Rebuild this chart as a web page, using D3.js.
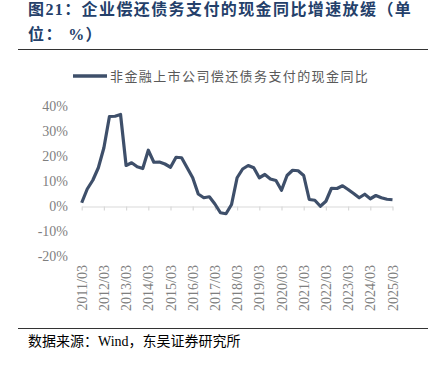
<!DOCTYPE html>
<html><head><meta charset="utf-8">
<script src="https://cdn.jsdelivr.net/npm/d3@7/dist/d3.min.js"></script>
<style>body{margin:0;background:#fff;}svg{display:block;}</style>
</head><body>
<script>
const years = d3.range(2011, 2026);
const tickLabels = years.map(y => y + "/03");
const seriesName = "非金融上市公司偿还债务支付的现金同比";
const values = [
  1.5, 7, 10.5, 15.5,
  23.5, 36, 36.1, 36.8,
  16.4, 17.5, 15.9, 15.2,
  22.5, 17.7, 17.8, 17,
  15.7, 19.7, 19.5, 15.5,
  11.5, 5, 3.5, 3.9,
  1, -2.5, -2.9, 0.8,
  11.5, 15, 16.4, 15.5,
  11.5, 12.8, 11, 10.4,
  6.5, 12.4, 14.5, 14.3,
  12.4, 2.8, 2.5, 0.1,
  2.1, 7.3, 7.2, 8.3,
  6.8, 5.2, 3.5, 4.9,
  3.1, 4.4, 3.5, 2.9,
  2.7
];
const yTicks = [-20, -10, 0, 10, 20, 30, 40];

const W = 428, H = 373;
const svg = d3.select("body").append("svg").attr("width", W).attr("height", H);
const serif = "'Liberation Serif','Times New Roman','Noto Sans CJK SC',serif";
const titleColor = "#24406a";
const lineColor = "#3e4f6a";

// Title
svg.append("text").attr("x", 28).attr("y", 14.5)
  .attr("font-family", serif).attr("font-weight", "bold").attr("font-size", 16)
  .attr("fill", titleColor).attr("letter-spacing", 1.4)
  .text("图21：企业偿还债务支付的现金同比增速放缓（单");
svg.append("text").attr("x", 28).attr("y", 40)
  .attr("font-family", serif).attr("font-weight", "bold").attr("font-size", 16)
  .attr("fill", titleColor).attr("letter-spacing", 1.4)
  .text("位：  %）");
svg.append("line").attr("x1", 18).attr("x2", W).attr("y1", 49.5).attr("y2", 49.5)
  .attr("stroke", "#333").attr("stroke-width", 1.2);

// Scales
const x = d3.scaleLinear().domain([0, values.length - 1]).range([81.7, 392.5]);
const y = d3.scaleLinear().domain([-20, 40]).range([256.5, 106.5]);

// Y axis labels
const yAxis = d3.axisLeft(y).tickValues(yTicks).tickFormat(d => d + "%").tickSize(0).tickPadding(0);
const gy = svg.append("g").attr("transform", "translate(68,0)").call(yAxis);
gy.select(".domain").remove();
gy.selectAll("text").attr("font-family", serif).attr("font-size", 14).attr("fill", "#7f7f7f");

// X axis at zero
const tickIdx = years.map((yy, i) => i * 4);
const xAxis = d3.axisBottom(x).tickValues(tickIdx).tickFormat("").tickSize(4).tickSizeOuter(0);
const gx = svg.append("g").attr("transform", `translate(0,${y(0)})`).call(xAxis);
gx.select(".domain").attr("stroke", "#d9d9d9").attr("stroke-width", 1.2);
gx.selectAll(".tick line").attr("stroke", "#d9d9d9").attr("stroke-width", 1.2);

// X tick labels (low position)
svg.append("g").selectAll("text").data(tickIdx).join("text")
  .attr("transform", (d) => `translate(${x(d) + 0.5},265) rotate(-90)`)
  .attr("text-anchor", "end").attr("dominant-baseline", "central")
  .attr("font-family", serif).attr("font-size", 14).attr("fill", "#7f7f7f")
  .text((d, i) => tickLabels[i]);

// Line
svg.append("path").datum(values)
  .attr("d", d3.line().x((d, i) => x(i)).y(d => y(d)))
  .attr("fill", "none").attr("stroke", lineColor).attr("stroke-width", 3.2)
  .attr("stroke-linejoin", "round");

// Legend
svg.append("line").attr("x1", 73).attr("x2", 107).attr("y1", 76).attr("y2", 76)
  .attr("stroke", lineColor).attr("stroke-width", 3.5);
svg.append("text").attr("x", 110).attr("y", 76).attr("dominant-baseline", "central")
  .attr("font-family", serif).attr("font-size", 13).attr("fill", "#595959")
  .attr("letter-spacing", 1.4)
  .text(seriesName);

// Bottom rule & source
svg.append("line").attr("x1", 18).attr("x2", W).attr("y1", 328.5).attr("y2", 328.5)
  .attr("stroke", "#333").attr("stroke-width", 1.2);
svg.append("text").attr("x", 28).attr("y", 341).attr("dominant-baseline", "central")
  .attr("font-family", serif).attr("font-size", 14).attr("fill", "#000")
  .text("数据来源：Wind，东吴证券研究所");
</script>
</body></html>
